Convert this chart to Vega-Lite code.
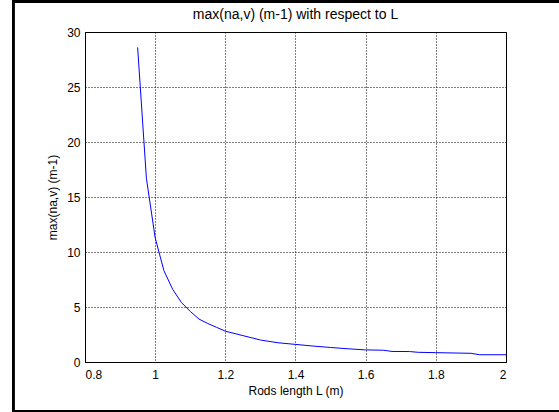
{
"$schema": "https://vega.github.io/schema/vega-lite/v6.json",
"width": 421, "height": 330,
"autosize": {"type": "none"},
"padding": {"left": 85, "top": 32, "right": 53, "bottom": 50},
"background": "white",
"title": {"text": "max(na,v) (m-1) with respect to L", "font": "Liberation Sans", "fontSize": 14, "fontWeight": "normal", "color": "black", "offset": 9, "dy": 31, "frame": "group"},
"config": {
  "view": {"stroke": "black", "strokeWidth": 1},
  "axis": {"labelFont": "Liberation Sans", "labelFontSize": 12, "labelColor": "black", "titleFont": "Liberation Sans", "titleFontSize": 12, "titleFontWeight": "normal", "titleColor": "black", "domainColor": "black", "grid": true, "gridColor": "black", "gridOpacity": 1, "gridDash": [1, 2], "ticks": false}
},
"data": {"values": [
 {"L": 0.95, "v": 28.6}, {"L": 0.975, "v": 16.7}, {"L": 1.0, "v": 11.3}, {"L": 1.025, "v": 8.3},
 {"L": 1.05, "v": 6.6}, {"L": 1.075, "v": 5.4}, {"L": 1.1, "v": 4.6}, {"L": 1.125, "v": 3.9},
 {"L": 1.15, "v": 3.5}, {"L": 1.175, "v": 3.15}, {"L": 1.2, "v": 2.8}, {"L": 1.25, "v": 2.4},
 {"L": 1.3, "v": 2.0}, {"L": 1.35, "v": 1.75}, {"L": 1.4, "v": 1.6}, {"L": 1.45, "v": 1.45},
 {"L": 1.5, "v": 1.32}, {"L": 1.55, "v": 1.2}, {"L": 1.6, "v": 1.1}, {"L": 1.65, "v": 1.07},
 {"L": 1.675, "v": 0.96}, {"L": 1.725, "v": 0.95}, {"L": 1.75, "v": 0.88}, {"L": 1.8, "v": 0.85},
 {"L": 1.9, "v": 0.79}, {"L": 1.925, "v": 0.66}, {"L": 2.0, "v": 0.66}
]},
"layer": [
 {"mark": {"type": "rect", "filled": false, "stroke": "black", "strokeWidth": 2, "clip": false},
  "encoding": {
   "x": {"datum": 0.595, "type": "quantitative", "scale": {"domain": [0.8, 2], "nice": false, "zero": false}},
   "x2": {"datum": 2.3},
   "y": {"datum": 32.8, "type": "quantitative", "scale": {"domain": [0, 30], "nice": false, "zero": false}},
   "y2": {"datum": -4.45}
  }},
 {"mark": {"type": "line", "color": "#0000ff", "strokeWidth": 1, "clip": true},
  "encoding": {
   "x": {"field": "L", "type": "quantitative", "scale": {"domain": [0.8, 2], "nice": false, "zero": false},
         "axis": {"title": "Rods length L (m)", "values": [0.8, 1, 1.2, 1.4, 1.6, 1.8, 2], "format": "~g", "labelPadding": 7, "titlePadding": 5}},
   "y": {"field": "v", "type": "quantitative", "scale": {"domain": [0, 30], "nice": false, "zero": false},
         "axis": {"title": "max(na,v) (m-1)", "values": [0, 5, 10, 15, 20, 25, 30], "labelPadding": 5, "titlePadding": 7}}
  }}
]
}
